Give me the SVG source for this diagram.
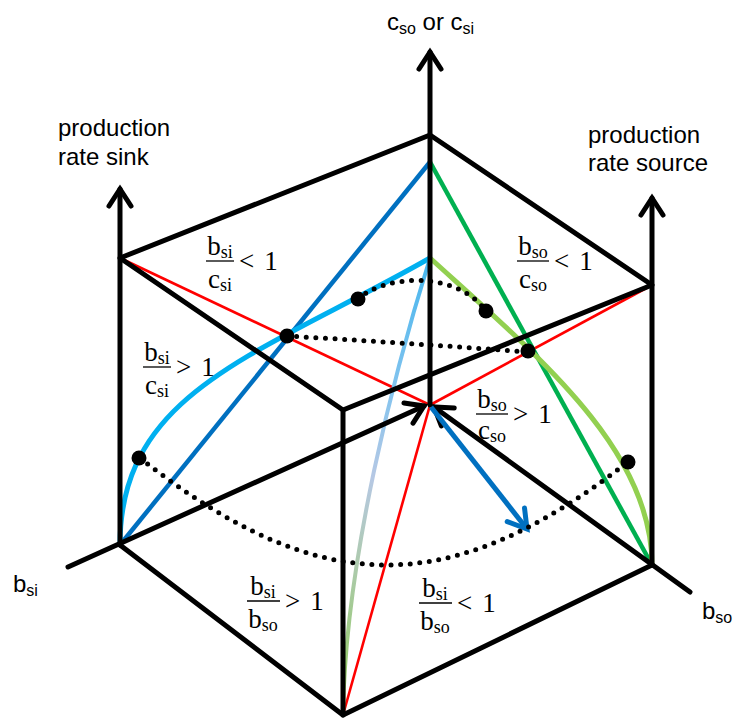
<svg xmlns="http://www.w3.org/2000/svg" width="735" height="720" viewBox="0 0 735 720">
<style>
.k{fill:none;stroke:#000;stroke-width:5;stroke-linecap:round;stroke-linejoin:round}
.dot{fill:none;stroke:#000;stroke-width:5;stroke-linecap:round;stroke-dasharray:0 9.6}
.red{fill:none;stroke:#FF0000;stroke-width:2.6}
.lab{font-family:"Liberation Sans",Arial,sans-serif;font-size:24px;fill:#000}
.m{font-family:"Liberation Serif","Times New Roman",serif;font-size:27px;fill:#000}
.bar{stroke:#000;stroke-width:1.3}
</style>
<defs>
<marker id="ah" markerUnits="userSpaceOnUse" viewBox="-25 -15 30 30" markerWidth="30" markerHeight="30" refX="0" refY="0" orient="auto" overflow="visible">
<path d="M-17,-11 L0,0 L-17,11" fill="none" stroke="#000" stroke-width="5" stroke-linecap="round" stroke-linejoin="miter"/>
</marker>
<marker id="ahb" markerUnits="userSpaceOnUse" viewBox="-25 -15 30 30" markerWidth="30" markerHeight="30" refX="0" refY="0" orient="auto" overflow="visible">
<path d="M-18,-11 L0,0 L-18,11" fill="none" stroke="#0070C0" stroke-width="5" stroke-linecap="round" stroke-linejoin="miter"/>
</marker>
<linearGradient id="gg" gradientUnits="userSpaceOnUse" x1="0" y1="258" x2="0" y2="715">
<stop offset="0" stop-color="#45B6EE"/>
<stop offset="0.3" stop-color="#86C4EE"/>
<stop offset="0.48" stop-color="#B6C8E4"/>
<stop offset="0.66" stop-color="#AECAB0"/>
<stop offset="0.85" stop-color="#9CCB7E"/>
<stop offset="1" stop-color="#8CCC4C"/>
</linearGradient>
</defs>

<g id="colored-lines">
<path class="red" d="M120,258 L430,405"/>
<path class="red" d="M652,285 L430,405"/>
<path class="red" d="M430,405 L343,715"/>
<path d="M120,545 L430,162" fill="none" stroke="#0070C0" stroke-width="4.5"/>
<path d="M430,162 L652,565" fill="none" stroke="#00B050" stroke-width="4.5"/>
<path id="sink-curve" d="M120,545 C120,390 260,355 430,258" fill="none" stroke="#00B0F0" stroke-width="5"/>
<path id="source-curve" d="M430,258 C540,358 652,450 652,565" fill="none" stroke="#92D050" stroke-width="5"/>
<path id="mid-curve" d="M430,258 C395,370 345,560 343,715" fill="none" stroke="url(#gg)" stroke-width="4"/>
</g>

<g id="cube">
<path class="k" d="M120,258 L430,135 L652,285 L343,410 Z"/>
<path class="k" d="M120,545 L343,715 L652,565"/>
<path class="k" d="M343,410 L343,715"/>
<path class="k" d="M120,545 L120,189" marker-end="url(#ah)"/>
<path class="k" d="M652,565 L652,198" marker-end="url(#ah)"/>
<path class="k" d="M430,405 L430,52" marker-end="url(#ah)"/>
<path class="k" d="M68,567 L424,406" marker-end="url(#ah)"/>
<path class="k" d="M690,592 L434,407" marker-end="url(#ah)"/>
</g>

<g id="connectors">
<path d="M431,407 L527,529" fill="none" stroke="#0070C0" stroke-width="5" marker-end="url(#ahb)"/>
<path class="dot" d="M140,458 C320,600 450,600 628,462"/>
<path class="dot" d="M287,336 Q408,343 528,352"/>
<path class="dot" d="M358,299 C385,275 455,270 485,310"/>
</g>

<g id="points" fill="#000">
<circle cx="139" cy="458" r="7.5"/>
<circle cx="628" cy="462" r="7.5"/>
<circle cx="287" cy="336" r="7.5"/>
<circle cx="528" cy="351" r="7.5"/>
<circle cx="358" cy="299" r="7.5"/>
<circle cx="486" cy="311" r="7.5"/>
</g>

<g id="axis-labels">
<text class="lab" x="387" y="30">c<tspan font-size="16" dy="4">so</tspan><tspan dy="-4"> or c</tspan><tspan font-size="16" dy="4">si</tspan></text>
<text class="lab" x="58" y="136">production</text>
<text class="lab" x="58" y="165">rate sink</text>
<text class="lab" x="588" y="143">production</text>
<text class="lab" x="588" y="171">rate source</text>
<text class="lab" x="13" y="592">b<tspan font-size="16" dy="4">si</tspan></text>
<text class="lab" x="702" y="619">b<tspan font-size="16" dy="4">so</tspan></text>
</g>

<g id="fractions">
<g id="f1">
<text class="m" x="220" y="255" text-anchor="middle">b<tspan font-size="18" dy="3">si</tspan></text>
<line class="bar" x1="206" y1="261" x2="234" y2="261"/>
<text class="m" x="220" y="288" text-anchor="middle">c<tspan font-size="18" dy="3">si</tspan></text>
<text class="m" x="239" y="270">&lt;<tspan dx="10">1</tspan></text>
</g>
<g id="f2">
<text class="m" x="157" y="361" text-anchor="middle">b<tspan font-size="18" dy="3">si</tspan></text>
<line class="bar" x1="143" y1="367" x2="171" y2="367"/>
<text class="m" x="157" y="394" text-anchor="middle">c<tspan font-size="18" dy="3">si</tspan></text>
<text class="m" x="176" y="376">&gt;<tspan dx="10">1</tspan></text>
</g>
<g id="f3">
<text class="m" x="533" y="255" text-anchor="middle">b<tspan font-size="18" dy="3">so</tspan></text>
<line class="bar" x1="517" y1="261" x2="549" y2="261"/>
<text class="m" x="533" y="288" text-anchor="middle">c<tspan font-size="18" dy="3">so</tspan></text>
<text class="m" x="554" y="270">&lt;<tspan dx="10">1</tspan></text>
</g>
<g id="f4">
<text class="m" x="492" y="408" text-anchor="middle">b<tspan font-size="18" dy="3">so</tspan></text>
<line class="bar" x1="476" y1="414" x2="508" y2="414"/>
<text class="m" x="492" y="439" text-anchor="middle">c<tspan font-size="18" dy="3">so</tspan></text>
<text class="m" x="513" y="423">&gt;<tspan dx="10">1</tspan></text>
</g>
<g id="f5">
<text class="m" x="263" y="595" text-anchor="middle">b<tspan font-size="18" dy="3">si</tspan></text>
<line class="bar" x1="247" y1="601" x2="280" y2="601"/>
<text class="m" x="263" y="628" text-anchor="middle">b<tspan font-size="18" dy="3">so</tspan></text>
<text class="m" x="285" y="610">&gt;<tspan dx="10">1</tspan></text>
</g>
<g id="f6">
<text class="m" x="435" y="597" text-anchor="middle">b<tspan font-size="18" dy="3">si</tspan></text>
<line class="bar" x1="419" y1="603" x2="452" y2="603"/>
<text class="m" x="435" y="630" text-anchor="middle">b<tspan font-size="18" dy="3">so</tspan></text>
<text class="m" x="457" y="612">&lt;<tspan dx="10">1</tspan></text>
</g>
</g>
</svg>
